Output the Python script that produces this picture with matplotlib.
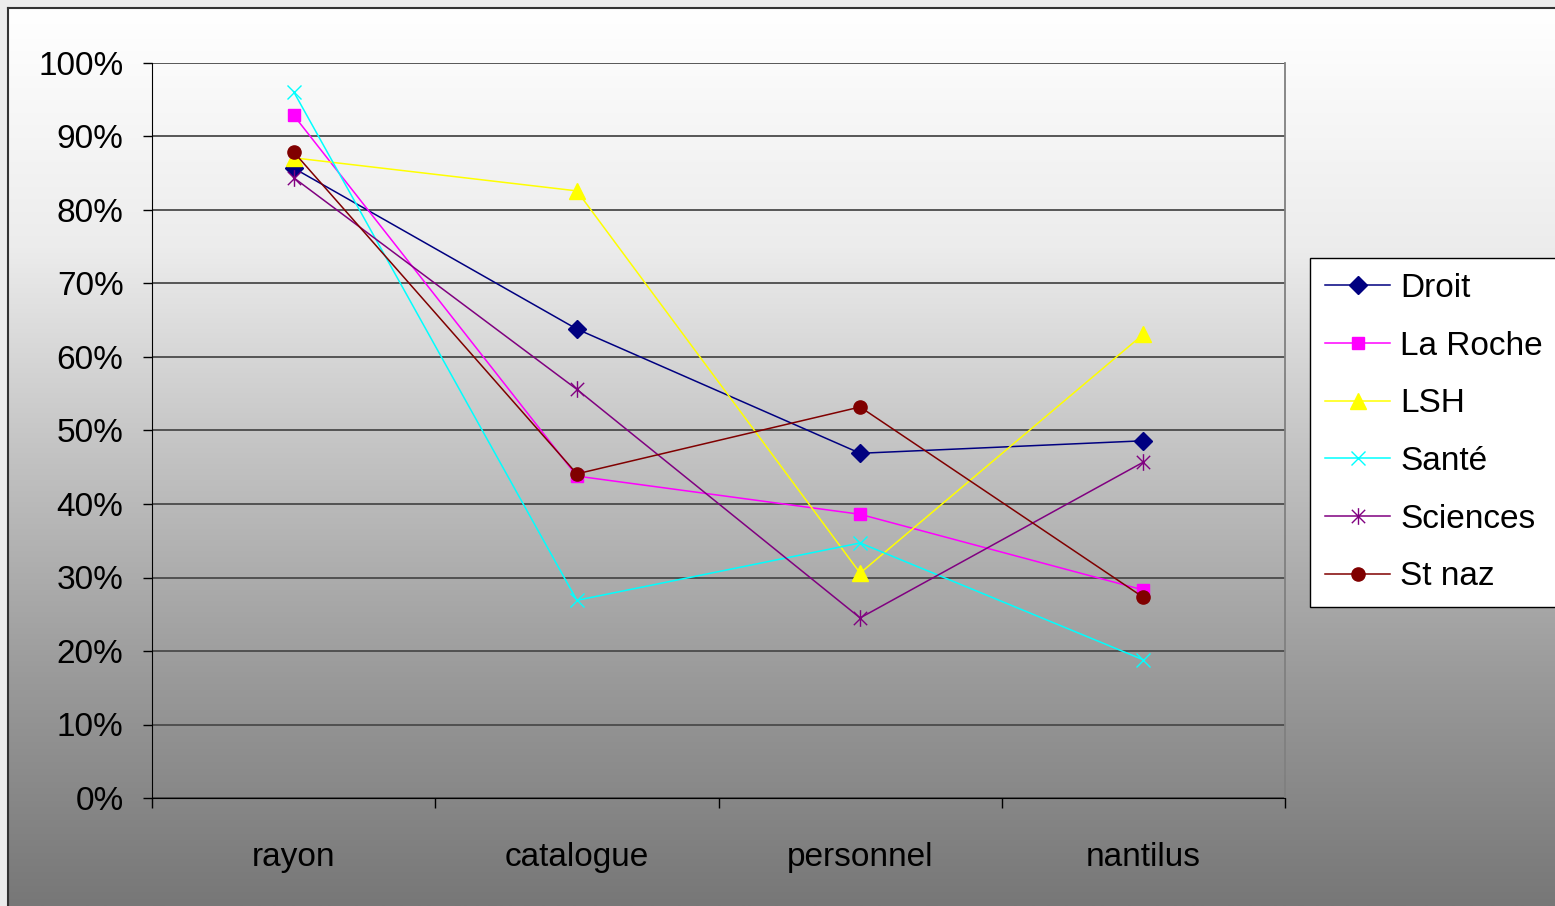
import matplotlib
matplotlib.use("Agg")
import matplotlib.pyplot as plt
import numpy as np
from matplotlib.path import Path
from matplotlib.ticker import FixedLocator, NullFormatter

plt.rcParams["font.family"] = ["Liberation Sans Narrow", "Liberation Sans", "DejaVu Sans"]

categories = ["rayon", "catalogue", "personnel", "nantilus"]
series_names = ["Droit", "La Roche", "LSH", "Santé", "Sciences", "St naz"]
droit = [85.7, 63.8, 46.9, 48.6]
la_roche = [92.9, 43.8, 38.6, 28.3]
lsh = [87.1, 82.6, 30.6, 63.1]
sante = [96.1, 26.9, 34.7, 18.8]
sciences = [84.4, 55.6, 24.5, 45.7]
st_naz = [87.9, 44.1, 53.2, 27.3]
y_ticks = [0, 10, 20, 30, 40, 50, 60, 70, 80, 90, 100]

# star marker: "x" with a vertical bar
star = Path(
    [(-1, -1), (1, 1), (-1, 1), (1, -1), (0, -1.25), (0, 1.25)],
    [Path.MOVETO, Path.LINETO, Path.MOVETO, Path.LINETO, Path.MOVETO, Path.LINETO],
)

styles = [
    dict(color="#000080", marker="D", markersize=9.5),
    dict(color="#FF00FF", marker="s", markersize=9),
    dict(color="#FFFF00", marker="^", markersize=11),
    dict(color="#00FFFF", marker="x", markersize=10, markeredgewidth=1.0),
    dict(color="#800080", marker=star, markersize=12, markeredgewidth=1.0),
    dict(color="#800000", marker="o", markersize=9.5),
]

W, H = 1555, 906
fig = plt.figure(figsize=(W / 100, H / 100), dpi=100)
fig.patch.set_facecolor("#ececec")

# gradient background inside the chart frame
bg = fig.add_axes([8 / W, 0, 1 - 8 / W, 1 - 8 / H], zorder=0)
rows = np.linspace(0, H - 8, 400)
levels = np.interp(rows, [0, 30, 240, 450, 670, 898], [255, 253, 236, 194, 154, 119]) / 255
grad = np.repeat(levels[:, None], 2, axis=1)
bg.imshow(np.dstack([grad, grad, grad]), aspect="auto", extent=(0, 1, 0, 1), origin="upper")
bg.set_xlim(0, 1)
bg.set_ylim(0, 1)
bg.set_xticks([])
bg.set_yticks([])
for side in ("right", "bottom"):
    bg.spines[side].set_visible(False)
for side in ("left", "top"):
    bg.spines[side].set_color("#333333")
    bg.spines[side].set_linewidth(1.5)

ax = fig.add_axes([152 / W, 1 - 798 / H, (1285 - 152) / W, (798 - 63) / H], zorder=1)
ax.set_facecolor("none")
x = np.arange(len(categories))
data = [droit, la_roche, lsh, sante, sciences, st_naz]
for name, values, style in zip(series_names, data, styles):
    ax.plot(x, values, linewidth=1.1, label=name, markeredgecolor=style["color"],
            markerfacecolor=style["color"], clip_on=False, zorder=3, **style)

ax.set_xlim(-0.5, len(categories) - 0.5)
ax.set_ylim(0, 100)
ax.set_yticks(y_ticks)
ax.set_yticklabels([f"{v}%" for v in y_ticks], fontsize=24)
ax.yaxis.grid(True, color="#4a4a4a", linewidth=1.3)
ax.set_axisbelow(True)
ax.tick_params(axis="y", length=6.5, width=1, color="black", pad=14)

ax.xaxis.set_major_locator(FixedLocator(np.arange(-0.5, len(categories), 1.0)))
ax.xaxis.set_major_formatter(NullFormatter())
ax.xaxis.set_minor_locator(FixedLocator(x))
ax.set_xticklabels(categories, minor=True, fontsize=24)
ax.tick_params(axis="x", which="major", length=7, width=1, color="black")
ax.tick_params(axis="x", which="minor", length=0, pad=32)

ax.spines["top"].set_visible(False)
ax.spines["right"].set_color("#808080")
ax.spines["right"].set_linewidth(1.3)
ax.spines["left"].set_color("black")
ax.spines["bottom"].set_color("black")

fig.legend(
    loc="upper left",
    bbox_to_anchor=(1310 / W, 1 - 258 / H),
    fontsize=24,
    frameon=True,
    fancybox=False,
    edgecolor="black",
    facecolor="white",
    framealpha=1,
    handlelength=1.95,
    handletextpad=0.3,
    labelspacing=0.8,
    borderpad=0.45,
    borderaxespad=0,
)

fig.savefig("out.png", dpi=100)
